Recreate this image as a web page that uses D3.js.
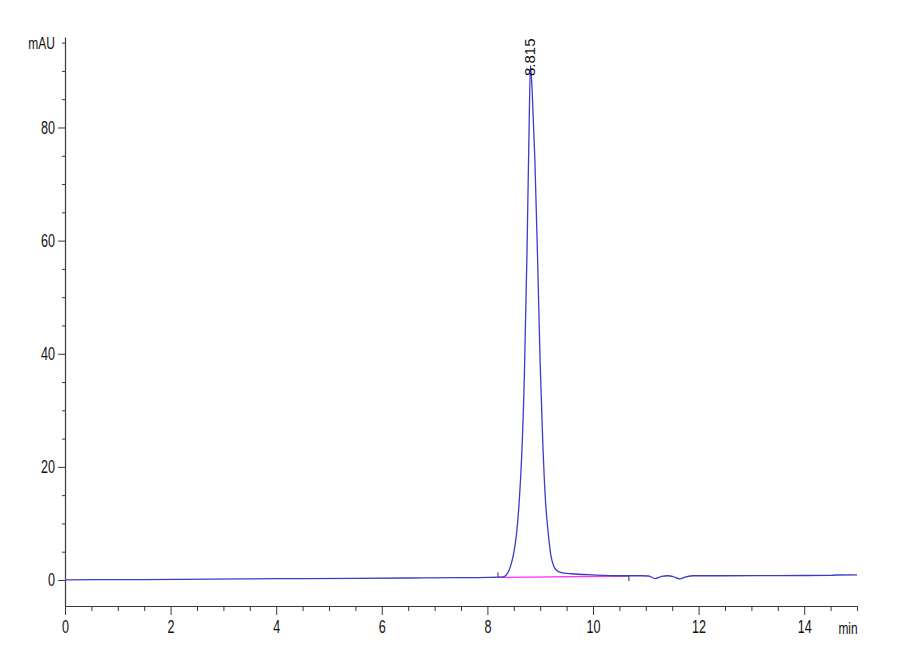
<!DOCTYPE html>
<html>
<head>
<meta charset="utf-8">
<script src="https://cdn.jsdelivr.net/npm/d3@7"></script>
<style>
  body { margin: 0; background: #fff; }
  svg { display: block; }
  text { font-family: "Liberation Sans", Arial, sans-serif; }
</style>
</head>
<body>
<svg width="900" height="660"></svg>
<script>
// retention time (min) and signal (mAU)
var timeMin = [0, 0.6, 1.5, 2.2, 3.4, 4.5, 5.5, 6.5, 7.5, 8.0, 8.2, 8.3, 8.35, 8.4, 8.45, 8.5, 8.55,
    8.6, 8.65, 8.7, 8.75, 8.79, 8.815, 8.85, 8.9, 8.95, 9.0, 9.05, 9.1, 9.15, 9.2, 9.25, 9.3, 9.4,
    9.6, 10.0, 10.5, 10.9, 11.05, 11.18, 11.3, 11.42, 11.52, 11.64, 11.76, 11.9, 12.5, 13.5, 14.5,
    14.6, 15.0];
var signal = [0.0, 0.05, 0.08, 0.12, 0.2, 0.25, 0.3, 0.35, 0.4, 0.45, 0.5, 0.55, 0.8, 1.5, 2.8, 4.8, 8,
    13.5, 22, 36, 58, 80, 91, 86, 74, 57, 38, 24, 14, 8.5, 4.5, 2.6, 1.8, 1.3,
    1.1, 0.9, 0.75, 0.75, 0.7, 0.25, 0.65, 0.75, 0.6, 0.2, 0.55, 0.75, 0.75, 0.78, 0.8,
    0.88, 0.9];

// integration baseline drawn under the peak
var baseTime = [8.2, 10.68];
var baseSignal = [0.45, 0.7];

var peakTime = 8.815;
var peakLabel = '8.815';

var xMajor = [0, 2, 4, 6, 8, 10, 12, 14];
var yMajor = [0, 20, 40, 60, 80];

var svg = d3.select('svg');

var x = d3.scaleLinear().domain([0, 15]).range([65, 857]);
var y = d3.scaleLinear().domain([-4.6, 96]).range([606, 37]);

var axisColor = '#3a3a3a';
var squeeze = 0.7;   // the original labels are in a narrow face

function narrowLabels(sel, size) {
    sel.attr('font-size', size)
        .attr('fill', '#111')
        .attr('font-family', '"Liberation Sans", Arial, sans-serif')
        .each(function() {
            var t = d3.select(this);
            var ox = +t.attr('x') || 0;
            t.attr('x', ox / squeeze).attr('transform', 'scale(' + squeeze + ',1)');
        });
}

// x axis
var xMinor = d3.range(0, 15.01, 0.5).filter(function(v) { return xMajor.indexOf(v) < 0; });

svg.append('g')
    .attr('transform', 'translate(0,606)')
    .call(d3.axisBottom(x).tickValues(xMinor).tickSize(5).tickFormat('').tickSizeOuter(0))
    .call(function(g) { g.select('.domain').remove(); })
    .selectAll('line').attr('stroke', axisColor);

var gx = svg.append('g')
    .attr('transform', 'translate(0,606)')
    .call(d3.axisBottom(x).tickValues(xMajor).tickSize(9).tickSizeOuter(0).tickPadding(5)
        .tickFormat(d3.format('d')));
gx.select('.domain').attr('stroke', axisColor).attr('stroke-width', 1.2);
gx.selectAll('line').attr('stroke', axisColor);
narrowLabels(gx.selectAll('text'), 18);

svg.append('text')
    .attr('x', (x(15) - 9) / squeeze)
    .attr('y', 634)
    .attr('transform', 'scale(' + squeeze + ',1)')
    .attr('text-anchor', 'middle')
    .attr('font-size', 17)
    .attr('fill', '#111')
    .text('min');

// y axis
var yMinor = d3.range(0, 96, 5).filter(function(v) { return yMajor.indexOf(v) < 0; });

svg.append('g')
    .attr('transform', 'translate(65,0)')
    .call(d3.axisLeft(y).tickValues(yMinor).tickSize(3).tickFormat('').tickSizeOuter(0))
    .call(function(g) { g.select('.domain').remove(); })
    .selectAll('line').attr('stroke', axisColor);

var gy = svg.append('g')
    .attr('transform', 'translate(65,0)')
    .call(d3.axisLeft(y).tickValues(yMajor).tickSize(7).tickSizeOuter(0).tickPadding(3)
        .tickFormat(d3.format('d')));
gy.select('.domain').attr('stroke', axisColor).attr('stroke-width', 1.2);
gy.selectAll('line').attr('stroke', axisColor);
narrowLabels(gy.selectAll('text'), 18);

svg.append('text')
    .attr('x', 55 / 0.75)
    .attr('y', y(95) + 6)
    .attr('transform', 'scale(0.75,1)')
    .attr('text-anchor', 'end')
    .attr('font-size', 16)
    .attr('fill', '#111')
    .text('mAU');

// integration baseline
var baseData = baseTime.map(function(t, i) { return [t, baseSignal[i]]; });

svg.append('path')
    .datum(baseData)
    .attr('fill', 'none')
    .attr('stroke', '#ff33ff')
    .attr('stroke-width', 1.3)
    .attr('d', d3.line().x(function(d) { return x(d[0]); }).y(function(d) { return y(d[1]); }));

svg.append('line')
    .attr('x1', x(baseTime[0])).attr('x2', x(baseTime[0]))
    .attr('y1', y(baseSignal[0])).attr('y2', y(baseSignal[0]) - 5)
    .attr('stroke', '#333');
svg.append('line')
    .attr('x1', x(baseTime[1])).attr('x2', x(baseTime[1]))
    .attr('y1', y(baseSignal[1])).attr('y2', y(baseSignal[1]) + 5)
    .attr('stroke', '#333');

// chromatogram trace
var trace = timeMin.map(function(t, i) { return [t, signal[i]]; });

svg.append('path')
    .datum(trace)
    .attr('fill', 'none')
    .attr('stroke', '#3c3cc8')
    .attr('stroke-width', 1.3)
    .attr('d', d3.line()
        .curve(d3.curveMonotoneX)
        .x(function(d) { return x(d[0]); })
        .y(function(d) { return y(d[1]); }));

// peak retention time label
svg.append('text')
    .attr('transform', 'translate(' + (x(peakTime) + 5) + ',' + 76 + ') rotate(-90)')
    .attr('font-size', 15)
    .attr('fill', '#111')
    .text(peakLabel);
</script>
</body>
</html>
